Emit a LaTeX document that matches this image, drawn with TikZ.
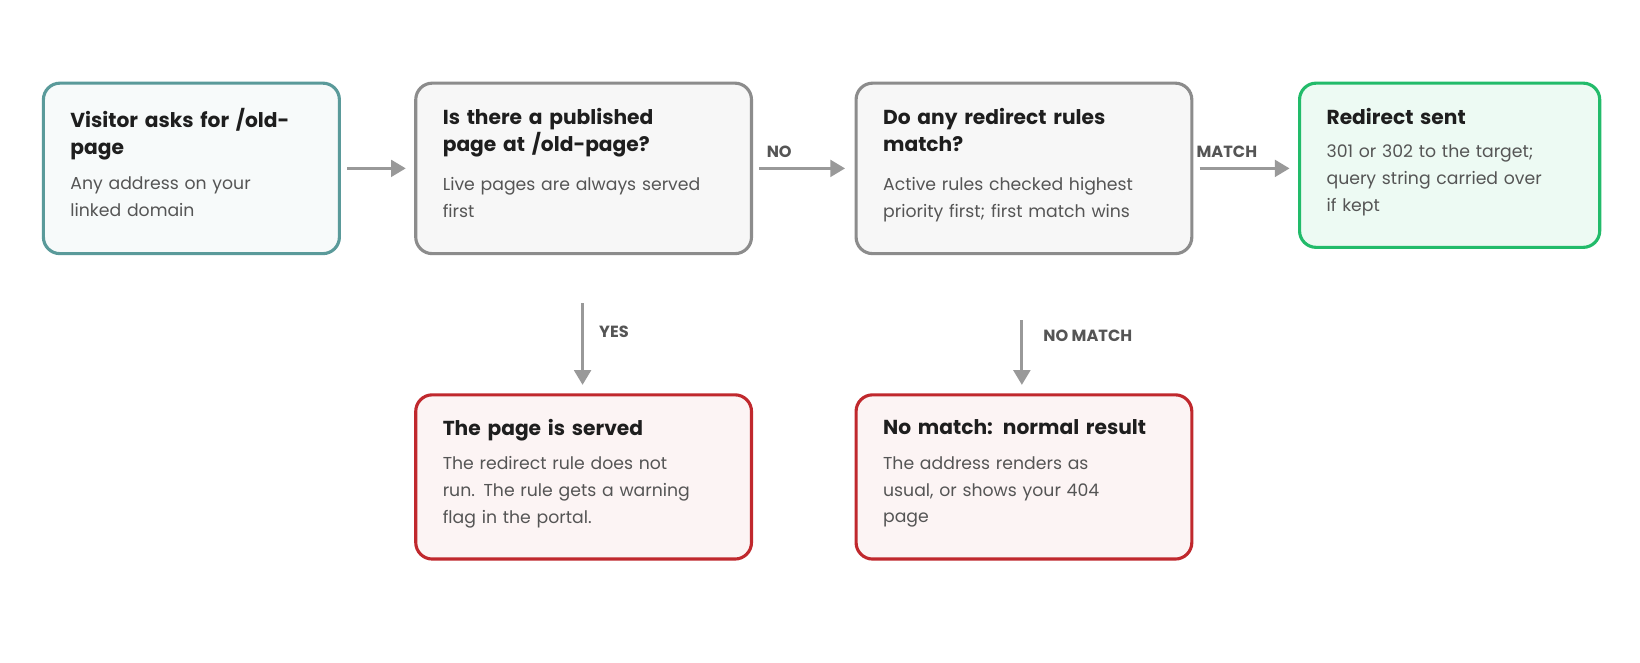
\documentclass[tikz,border=0pt]{standalone}
\usepackage{fontspec}
\setmainfont{Poppins}
\usetikzlibrary{arrows.meta}
\definecolor{teal}{HTML}{5A9A9A}
\definecolor{gr}{HTML}{8C8C8C}
\definecolor{grn}{HTML}{22BB6A}
\definecolor{rd}{HTML}{C0282D}
\definecolor{arr}{HTML}{999999}
\definecolor{txt}{HTML}{1E1E1E}
\definecolor{sub}{HTML}{555555}
\begin{document}
\begin{tikzpicture}[x=0.02cm,y=-0.02cm,
 box/.style={draw,line width=1.7pt,rounded corners=9pt},
 tt/.style={anchor=north west,text width=5.1cm,align=left,inner sep=0pt,font=\fontsize{11pt}{15pt}\selectfont\bfseries,text=txt},
 bd/.style={anchor=north west,text width=5.2cm,align=left,inner sep=0pt,font=\fontsize{9.4pt}{14.6pt}\selectfont,text=sub},
 ar/.style={draw=arr,line width=1.7pt,-{Triangle[length=8pt,width=9pt]}},
 lb/.style={font=\fontsize{8.8pt}{10pt}\selectfont\bfseries,text=sub}]
\useasboundingbox (0,0) rectangle (1568,633);
\fill[white] (0,0) rectangle (1568,633);
\node[box,draw=teal,fill=teal!5,minimum width=283*0.02cm,minimum height=163*0.02cm,anchor=north west] (A) at (40,78) {};
\node[box,draw=gr,fill=black!3,minimum width=321*0.02cm,minimum height=163*0.02cm,anchor=north west] (B) at (396,78) {};
\node[box,draw=gr,fill=black!3,minimum width=321*0.02cm,minimum height=163*0.02cm,anchor=north west] (C) at (817,78) {};
\node[box,draw=grn,fill=grn!8,minimum width=287*0.02cm,minimum height=157*0.02cm,anchor=north west] (D) at (1241,78) {};
\node[box,draw=rd,fill=rd!5,minimum width=321*0.02cm,minimum height=157*0.02cm,anchor=north west] (E) at (396,376) {};
\node[box,draw=rd,fill=rd!5,minimum width=321*0.02cm,minimum height=157*0.02cm,anchor=north west] (F) at (817,376) {};
\node[tt] (At) at (67,103) {Visitor asks for /old-\\page};
\node[bd] (Ab) at (67,169) {Any address on your\\linked domain};
\node[tt] (Bt) at (423,103) {Is there a published\\page at /old-page?};
\node[bd] (Bb) at (423,169) {Live pages are always served\\first};
\node[tt] (Ct) at (844,103) {Do any redirect rules\\match?};
\node[bd] (Cb) at (844,169) {Active rules checked highest\\priority first; first match wins};
\node[tt] (Dt) at (1268,103) {Redirect sent};
\node[bd] (Db) at (1268,138) {301 or 302 to the target;\\query string carried over\\if kept};
\node[tt] (Et) at (423,401) {The page is served};
\node[bd] (Eb) at (423,436) {The redirect rule does not\\run. The rule gets a warning\\flag in the portal.};
\node[tt] (Ft) at (844,401) {No match: normal result};
\node[bd] (Fb) at (844,436) {The address renders as\\usual, or shows your 404\\page};
\draw[ar,shorten <=6*0.02cm,shorten >=8*0.02cm] (A.east) -- (B.west);
\draw[ar,shorten <=6*0.02cm,shorten >=9*0.02cm] (B.east) -- (C.west);
\draw[ar,shorten <=6*0.02cm,shorten >=8*0.02cm] (C.east) -- (D.west |- C.east);
\draw[ar,shorten <=46*0.02cm,shorten >=8*0.02cm] (B.south -| 557,0) -- (E.north -| 557,0);
\draw[ar,shorten <=62*0.02cm,shorten >=8*0.02cm] (C.south -| 977,0) -- (F.north -| 977,0);
\node[lb] (l1) at (745,145) {NO};
\node[lb] (l2) at (1173,145) {MATCH};
\node[lb] (l3) at (587,317) {YES};
\node[lb] (l4) at (1040,321) {NO MATCH};
\end{tikzpicture}
\end{document}
